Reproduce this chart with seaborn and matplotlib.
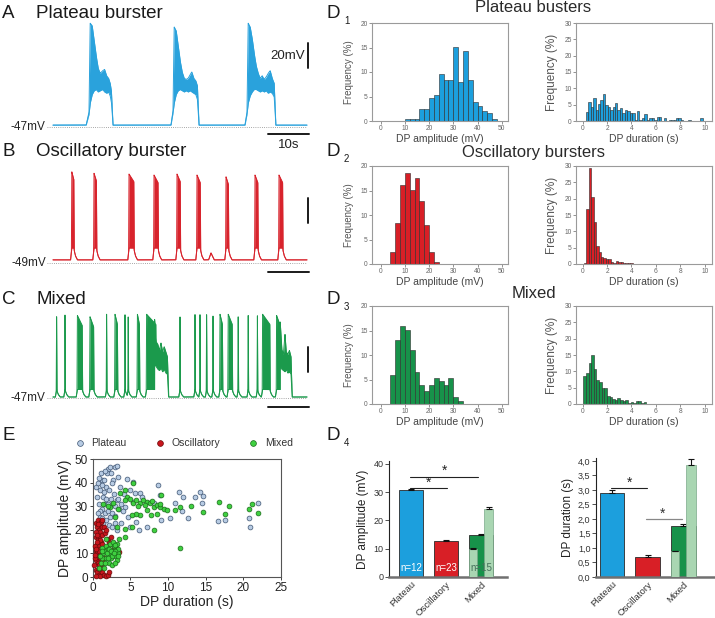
import numpy as np
import pandas as pd
import matplotlib
matplotlib.use("Agg")
import matplotlib.pyplot as plt
import seaborn as sns

sns.set_theme(style="white")
plt.rcParams['font.family'] = ['Liberation Sans', 'DejaVu Sans']

# ---------------- colours ----------------
BLUE = "#1c9fdd"
RED = "#d81f26"
GREEN = "#17924a"
LIGHTG = "#a9d6b2"

# ---------------- trace data (A, B, C) ----------------
# A: plateau bursts, envelope vertices (time s, low mV, high mV)
A_base = -45.5
A_b1_t = [8.3, 9.0, 9.3, 9.8, 10.3, 10.8, 11.3, 11.8, 12.4, 12.9, 13.4, 13.9, 14.3, 14.6, 15.0]
A_b1_lo = [-45.5, -37, -28, -21, -18, -17, -19, -18, -17, -19, -20, -19, -22, -27, -45.5]
A_b1_hi = [-45.5, -35, 36, 34, 22, 10, 0, -4, -2, -1, -6, -8, -12, -18, -45.5]
A_b2_t = [29.5, 30.0, 30.3, 30.8, 31.3, 31.8, 32.3, 32.8, 33.3, 33.8, 34.3, 34.7, 35.2, 35.7, 36.1, 36.5]
A_b2_lo = [-45.5, -36, -28, -21, -18, -17, -18, -19, -18, -19, -18, -19, -20, -21, -25, -45.5]
A_b2_hi = [-45.5, -34, 33, 30, 18, 6, -3, -8, -9, -8, -5, -3, -8, -10, -14, -45.5]
A_b3_t = [48.0, 48.5, 48.8, 49.3, 49.8, 50.3, 50.8, 51.3, 51.8, 52.3, 52.8, 53.3, 53.8, 54.3, 54.8, 55.3, 55.7]
A_b3_lo = [-45.5, -37, -28, -22, -19, -17, -17, -18, -19, -18, -19, -18, -20, -19, -20, -23, -45.5]
A_b3_hi = [-45.5, -35, 36, 33, 24, 12, 2, -4, -8, -6, -9, -7, -4, -2, -8, -12, -45.5]

# B: oscillatory bursts (onset s, duration s, peak mV)
B_base = -46.5
B_t = [4.7, 10.25, 19.0, 25.25, 31.0, 36.0, 43.25, 50.5, 56.5]
B_dur = [0.5, 0.6, 1.2, 1.0, 0.8, 0.8, 0.6, 0.7, 0.9]
B_peak = [24, 22.8, 22.2, 21.4, 22.2, 21.4, 20, 21.4, 21.4]
B_bump_t = [38.9, 39.5, 40.3]
B_bump_v = [-46.5, -41, -46.5]

# C: mixed (onset s, duration s, peak mV) + plateaus
C_base = -46.2
C_t = [0.9, 3.0, 6.1, 9.25, 13.4, 15.5, 18.0, 18.8, 21.1, 23.4, 31.75, 35.5, 36.75,
       38.4, 40.0, 41.75, 43.8, 46.3, 48.8, 51.1, 52.4, 55.9]
C_dur = [0, 0, 1.2, 0.9, 0, 0.6, 0, 0, 0.5, 2.3, 0, 0, 0, 0, 0, 0.6, 1.0, 0, 0, 0, 1.8, 0.9]
C_peak = [20, 20, 19, 18, 20, 20, 20, 19, 20, 20, 20, 20, 20, 20, 20, 20, 20, 20, 20, 20, 20, 19]
C_p1_t = [25.4, 25.8, 26.2, 26.6, 27.0, 27.4, 27.8, 28.2, 28.6, 28.9]
C_p1_lo = [-20, -22, -24, -25, -23, -26, -24, -27, -28, -46.2]
C_p1_hi = [16, -2, -4, -9, -3, -10, -6, -10, -14, -46.2]
C_p2_t = [56.8, 57.2, 57.6, 58.0, 58.3, 58.7, 59.1, 59.5, 59.8]
C_p2_lo = [-22, -24, -25, -26, -24, -27, -26, -28, -46.2]
C_p2_hi = [14, -8, -12, 4, -10, -12, -9, -14, -46.2]

# ---------------- histogram data (D1-D3) ----------------
P_amp_h = [0.4, 0.4, 0.4, 2.5, 2.5, 4.6, 5.4, 9.6, 8.4, 8.4, 15.1, 8.0, 14.3, 8.4, 3.8, 3.0, 2.1, 1.7, 0.4]
P_dur_h = [2.8, 5.8, 4.3, 7.0, 3.4, 5.2, 6.3, 8.4, 5.0, 4.4, 3.5, 4.2, 5.4, 3.4, 4.0, 2.5,
           3.4, 3.2, 2.6, 2.3, 0.4, 3.2, 0.4, 0.8, 2.1, 0.4, 0.8, 0.8, 0.4, 1.2, 1.2, 0.0,
           0.8, 0.0, 0.4, 0.4, 0.4, 0.8, 0.8, 0.4, 0.0, 0.0, 0.4, 0.0, 0.0, 0.0, 0.0, 0.8]
O_amp_h = [2.4, 8.3, 16.1, 18.6, 15.1, 17.6, 12.8, 7.9, 2.4, 0.4]
O_dur_h = [0.4, 16.8, 29.5, 20.6, 12.8, 5.6, 3.8, 2.2, 1.8, 1.5, 1.5, 0.6, 0.4, 0.8, 0.6,
           0.6, 0.2, 0.2, 0.2, 0.2]
M_amp_h = [5.9, 13.1, 15.9, 15.1, 11.0, 6.6, 3.9, 2.6, 3.9, 5.3, 4.6, 3.9, 5.3, 1.4, 0.6]
M_dur_h = [8.7, 9.6, 12.6, 15.0, 10.7, 7.2, 6.7, 4.9, 4.9, 2.4, 2.2, 1.4, 1.3, 1.7, 1.1,
           0.9, 1.2, 0.4, 0.5, 0.4, 1.0, 1.0, 0.3, 0.5]

# ---------------- bar data (D4) ----------------
groups = ["Plateau", "Oscillatory", "Mixed"]
amp_mean = [30.7, 12.9, 14.7]
amp_err = [0.4, 0.3, 0.6]
amp_sub = [10.0, 24.0]
amp_sub_err = [0.3, 0.6]
dur_mean = [2.9, 0.7, 1.75]
dur_err = [0.1, 0.07, 0.06]
dur_sub = [0.88, 3.87]
dur_sub_err = [0.01, 0.2]
n_labels = ["n=12", "n=23", "n=15"]

# ---------------- scatter data (E) ----------------
plat_x = [2.0, 2.3, 2.9, 3.2, 1.9, 1.2, 1.0, 1.4, 1.6, 2.3, 3.2, 1.0, 1.4, 2.3, 1.8, 2.7, 3.4, 4.5,
          5.4, 5.0, 5.6, 6.3, 6.5, 5.4, 4.3, 4.7, 5.8, 5.0, 3.2, 3.8, 6.1, 7.2, 8.1, 8.7, 8.9, 9.1,
          10.3, 10.9, 11.5, 11.8, 12.0, 13.6, 12.6, 14.2, 14.6, 14.5, 16.7, 17.6, 20.7, 20.9, 21.9,
          0.5, 0.7, 0.9, 1.1, 1.3, 1.5, 1.7, 0.6, 0.8, 1.2, 1.6, 2.0, 2.4, 2.8, 2.6, 3.0, 1.8, 2.1,
          2.5, 3.0, 3.5, 2.2, 1.5, 2.6, 3.3, 3.8, 4.0, 1.0, 0.7, 1.3, 2.0, 2.9, 3.6, 4.2, 1.6, 2.4]
plat_y = [45.9, 46.5, 46.7, 47.0, 43.9, 41.0, 36.8, 34.0, 31.0, 30.5, 32.6, 25.5, 22.7, 25.5, 38.0,
          41.0, 42.5, 41.5, 40.4, 36.8, 35.4, 35.4, 34.0, 31.9, 29.7, 25.5, 23.4, 21.2, 19.8, 22.7,
          19.8, 21.2, 31.2, 39.0, 34.7, 24.1, 25.0, 31.2, 36.1, 28.0, 34.0, 34.0, 24.8, 36.1, 34.3,
          31.4, 23.7, 24.1, 24.8, 21.2, 31.2,
          38, 40, 42, 44, 39, 36, 33, 34, 31, 29, 27, 28, 33, 35, 27, 26, 24, 22, 21, 30, 29, 37,
          41, 40, 33, 31, 28, 28, 27, 25, 31, 23, 38, 35, 45, 44]
osc_x = [0.5, 0.7, 0.9, 1.1, 0.6, 0.8, 1.0, 1.2, 0.4, 0.5, 0.7, 0.9, 1.1, 1.3, 0.6, 0.8, 1.0, 1.2,
         1.4, 0.4, 0.6, 0.8, 1.0, 1.2, 0.5, 0.7, 0.9, 1.1, 0.4, 0.6, 0.8, 1.0, 1.2, 1.5, 1.7, 1.4,
         1.6, 1.8, 2.0, 2.2, 2.4, 1.9, 2.6, 2.8, 3.0, 3.2, 3.4, 3.5, 1.5, 1.3, 0.3, 0.3, 0.5, 0.2,
         1.6, 1.8, 1.2, 0.9, 0.7, 1.0, 0.8, 0.6, 0.35, 0.45, 0.55, 2.0, 2.2]
osc_y = [23, 24, 22, 23.5, 21, 20, 19, 21, 19, 17, 16, 17.5, 15, 18, 14, 13, 12, 14, 12, 11, 10,
         9, 8, 10, 7, 6, 5, 4, 3, 2, 1, 0.5, 2, 1, 0.5, 6, 8, 11, 13, 15, 17, 16, 14, 12, 13,
         11.5, 11, 10.5, 21, 24, 13, 8, 0.5, 5, 18.5, 20, 7, 11, 22.5, 15.5, 3.5, 18, 9.5, 12, 15,
         1.0, 2.0]
mix_x = [5.3, 4.3, 4.5, 5.4, 5.8, 6.3, 6.7, 7.2, 7.6, 8.1, 8.5, 8.9, 9.4, 9.8, 7.2, 6.3, 5.8, 5.2,
         7.8, 8.5, 9.1, 10.9, 11.6, 13.0, 14.7, 16.8, 17.5, 18.1, 20.7, 21.2, 21.9, 2.3, 2.7, 3.4,
         3.0, 4.3, 3.6, 11.6, 8.1, 4.3, 4.3, 5.2, 3.2, 6.0, 6.9, 7.9, 9.0, 4.9, 1.4, 2.0,
         0.9, 1.1, 1.3, 1.4, 1.6, 1.8, 2.0, 2.2, 2.4, 2.6, 2.8, 3.0, 3.2, 3.3, 3.4, 1.3, 1.7, 2.1,
         2.5, 2.9, 1.5, 1.9, 2.3, 2.7, 3.0, 3.2, 3.5, 1.0, 1.2, 1.8, 2.2, 2.6, 3.0, 1.6, 3.3, 2.0,
         2.4, 2.8]
mix_y = [39.7, 36.8, 34.0, 31.2, 32.6, 31.2, 32.6, 31.9, 31.2, 29.7, 30.5, 29.7, 29.0, 28.3, 28.3,
         26.2, 26.9, 26.2, 26.2, 26.9, 34.7, 28.3, 29.7, 30.0, 27.6, 31.9, 26.9, 30.0, 29.0, 30.9,
         27.2, 29.7, 31.2, 29.0, 25.5, 32.6, 35.4, 12.3, 19.8, 17.0, 20.5, 21.0, 21.2, 30.0, 30.5,
         32.0, 31.0, 33.0, 31.0, 30.0,
         4, 6, 8, 10, 11, 13, 12, 10, 8, 11, 13, 9, 7, 10, 12, 12.5, 8, 6, 5, 6, 4, 10, 14, 15,
         11, 14, 16, 9, 11, 16, 12, 9, 13.5, 6, 9, 8, 11, 10]

# ---------------- figure helpers ----------------
W, H = 715, 618
fig = plt.figure(figsize=(7.15, 6.18), dpi=100)


def pax(x0, y0, x1, y1):
    return fig.add_axes([x0 / W, 1 - y1 / H, (x1 - x0) / W, (y1 - y0) / H])


def ftext(x, y, s, **kw):
    fig.text(x / W, 1 - y / H, s, **kw)


# ---------------- traces ----------------
tgrid = np.linspace(0, 63.5, 9000)


def envelope(base, events=(), hump=6.0, drop=7.0, segs=()):
    lo = np.full_like(tgrid, base)
    hi = lo.copy()
    for t0, dur, pk in events:
        if dur == 0:
            vt = [t0 - 0.3, t0 - 0.1, t0, t0 + 0.1, t0 + 0.4, t0 + 0.9]
            vl = [base, base + hump * 0.7, base + hump, base + hump * 0.8, base + hump * 0.35, base]
            vh = [base, base + hump * 0.7, pk, base + hump * 0.8, base + hump * 0.35, base]
        else:
            vt = [t0 - 0.3, t0 - 0.1, t0, t0 + dur, t0 + dur + 0.1, t0 + dur + 0.4, t0 + dur + 0.9]
            vl = [base, base + hump * 0.7, base + hump, base + hump, base + hump * 0.8,
                  base + hump * 0.35, base]
            vh = [base, base + hump * 0.7, pk, pk - drop, base + hump * 0.8, base + hump * 0.35, base]
        lo = np.maximum(lo, np.interp(tgrid, vt, vl, left=base, right=base))
        hi = np.maximum(hi, np.interp(tgrid, vt, vh, left=base, right=base))
    for st, sl, sh in segs:
        lo = np.maximum(lo, np.interp(tgrid, st, sl, left=base, right=base))
        hi = np.maximum(hi, np.interp(tgrid, st, sh, left=base, right=base))
    return lo, hi


def trace_axes(y0, y1, base_mv, base_px):
    ax = pax(0, y0, 320, y1)
    ax.set_xlim((0 - 53) / 4, (320 - 53) / 4)
    ax.set_ylim(base_mv - (y1 - base_px) / 1.25, base_mv + (base_px - y0) / 1.25)
    ax.axis('off')
    ax.plot([-1.5, 63.6], [base_mv, base_mv], ls=(0, (1, 1.6)), color="#8a8a8a", lw=0.6)
    ax.text(-1.8, base_mv, f"{base_mv}mV", ha='right', va='center', fontsize=8.5, color="#222")
    return ax


def draw_trace(ax, lo, hi, c):
    ax.fill_between(tgrid, lo, hi, color=c, lw=0)
    ax.plot(tgrid, hi, color=c, lw=0.7)
    ax.plot(tgrid, lo, color=c, lw=0.7)


# A
axA = trace_axes(18, 150, -47, 127)
loA, hiA = envelope(A_base, segs=[(A_b1_t, A_b1_lo, A_b1_hi), (A_b2_t, A_b2_lo, A_b2_hi),
                                  (A_b3_t, A_b3_lo, A_b3_hi)])
draw_trace(axA, loA, hiA, "#2aa2dc")
axA.plot([63.8, 63.8], [0, 20], color="#1a1a1a", lw=1.4)
axA.text(63.0, 10, "20mV", ha='right', va='center', fontsize=9.5, color="#222")
axA.plot([53.8, 64.0], [-52.6, -52.6], color="#1a1a1a", lw=1.4)
axA.text(58.9, -56.5, "10s", ha='center', va='top', fontsize=9.5, color="#222")

# B
axB = trace_axes(160, 285, -49, 263)
loB, hiB = envelope(B_base, events=list(zip(B_t, B_dur, B_peak)), hump=9.5, drop=6.0,
                    segs=[(B_bump_t, B_bump_v, B_bump_v)])
draw_trace(axB, loB, hiB, "#d8232c")
axB.plot([63.8, 63.8], [-17, 3], color="#1a1a1a", lw=1.4)
axB.plot([53.8, 64.0], [-56.2, -56.2], color="#1a1a1a", lw=1.4)

# C
axC = trace_axes(305, 420, -47, 398)
loC, hiC = envelope(C_base, events=list(zip(C_t, C_dur, C_peak)), hump=6.0, drop=8.0,
                    segs=[(C_p1_t, C_p1_lo, C_p1_hi), (C_p2_t, C_p2_lo, C_p2_hi)])
draw_trace(axC, loC, hiC, "#1b9a4c")
axC.plot([63.8, 63.8], [-26.2, -6.2], color="#1a1a1a", lw=1.4)
axC.plot([53.8, 64.0], [-54.2, -54.2], color="#1a1a1a", lw=1.4)

# panel letters / titles
for lab, y in [("A", 14), ("B", 151), ("C", 300), ("E", 436)]:
    ftext(2, y, lab, fontsize=13.5, va='center', ha='left', color="#1a1a1a")
ftext(36, 14, "Plateau burster", fontsize=13.5, va='center', color="#1a1a1a")
ftext(36, 151, "Oscillatory burster", fontsize=13.5, va='center', color="#1a1a1a")
ftext(36, 300, "Mixed", fontsize=13.5, va='center', color="#1a1a1a")
for sub, y in [("1", 14), ("2", 152), ("3", 300), ("4", 436)]:
    ftext(327, y, "D", fontsize=13.5, va='center', ha='left', color="#1a1a1a")
    ftext(344, y + 7, sub, fontsize=7, va='center', ha='left', color="#1a1a1a")
ftext(533, 8, "Plateau busters", fontsize=12, ha='center', va='center', color="#2a2a2a")
ftext(533, 152, "Oscillatory bursters", fontsize=12, ha='center', va='center', color="#2a2a2a")
ftext(534, 293, "Mixed", fontsize=12, ha='center', va='center', color="#2a2a2a")

# ---------------- histograms ----------------


def hist(ax, start, width, heights, color, xlim, ylim, xticks, yticks, xlabel):
    left = [start + i * width for i in range(len(heights))]
    edges = left + [left[-1] + width]
    centers = [l + width / 2 for l in left]
    sns.histplot(x=centers, weights=heights, bins=edges, ax=ax, color=color,
                 edgecolor="#2b2b2b", linewidth=0.4, alpha=1)
    ax.set_xlim(*xlim)
    ax.set_ylim(*ylim)
    ax.set_xticks(xticks)
    ax.set_yticks(yticks)
    ax.tick_params(axis='both', which='both', direction='out', length=2, width=0.5,
                   colors="#666", labelsize=4.8, pad=1, left=True, bottom=True)
    for s in ax.spines.values():
        s.set_color("#9a9a9a")
        s.set_linewidth(0.8)
    ax.set_xlabel(xlabel, fontsize=7.5, color="#444", labelpad=1)
    ax.set_ylabel("Frequency (%)", fontsize=7, color="#555", labelpad=5)


rows = [(23, 121, P_amp_h, 10, 2, P_dur_h, 0.25, 0.2, BLUE),
        (166, 264, O_amp_h, 4, 2, O_dur_h, 0.1, 0.2, RED),
        (306, 404, M_amp_h, 4, 2, M_dur_h, 0.05, 0.215, GREEN)]
for (y0, y1, ah, a0, aw, dh, d0, dw, col) in rows:
    axl = pax(372, y0, 508, y1)
    hist(axl, a0, aw, ah, col, (-3.6, 52.6), (0, 20), [0, 10, 20, 30, 40, 50],
         [0, 5, 10, 15, 20], "DP amplitude (mV)")
    axr = pax(576, y0, 712, y1)
    hist(axr, d0, dw, dh, col, (-0.55, 10.6), (0, 30), [0, 2, 4, 6, 8, 10],
         [0, 5, 10, 15, 20, 25, 30], "DP duration (s)")
    axr.yaxis.label.set_size(8.5)

# ---------------- D4 bar charts ----------------
pos = [0, 1, 2]


def barchart(ax, means, errs, sub, sub_err, ylim, yticks, yticklabels, ylabel, xlim):
    ax.bar(pos, means, width=0.7, color=[BLUE, RED, GREEN], edgecolor="#2a2a2a", lw=0.6, zorder=2)
    ax.errorbar(pos, means, yerr=[[0, 0, 0], errs], fmt='none', ecolor="#111", capsize=2,
                elinewidth=0.8, capthick=0.8, zorder=3)
    sx = [2 - 0.225, 2 + 0.215]
    ax.bar(sx, sub, width=[0.24, 0.27], color=LIGHTG, edgecolor="#7aa889", lw=0.5, zorder=4)
    ax.errorbar(sx, sub, yerr=[[0, 0], sub_err], fmt='none', ecolor="#111", capsize=2,
                elinewidth=0.8, capthick=0.8, zorder=5)
    ax.set_xlim(*xlim)
    ax.set_ylim(*ylim)
    ax.set_yticks(yticks)
    ax.set_yticklabels(yticklabels)
    ax.set_xticks(pos)
    ax.set_xticklabels(groups, rotation=45, ha='right', rotation_mode='anchor')
    ax.tick_params(axis='y', direction='out', length=3, width=0.6, colors="#333",
                   labelsize=6.5, pad=1, left=True)
    ax.tick_params(axis='x', length=0, labelsize=6.8, colors="#333", pad=2)
    for s in ['top', 'right']:
        ax.spines[s].set_visible(False)
    ax.spines['left'].set_color("#222")
    ax.spines['left'].set_linewidth(0.8)
    ax.spines['bottom'].set_color("#707070")
    ax.spines['bottom'].set_linewidth(1.8)
    ax.set_ylabel(ylabel, fontsize=8.5, color="#222", labelpad=3)


axL = pax(389, 461, 507, 577)
barchart(axL, amp_mean, amp_err, amp_sub, amp_sub_err, (0, 41), [0, 10, 20, 30, 40],
         ["0", "10", "20", "30", "40"], "DP amplitude (mV)", (-0.63, 2.74))
for p, lab, c in zip(pos, n_labels, ["white", "white", "#44705a"]):
    axL.text(p, 3.2, lab, ha='center', va='center', fontsize=7, color=c, zorder=6)
axL.plot([-0.03, 1.02], [31.4, 31.4], color="#222", lw=0.8)
axL.text(0.5, 31.0, "*", ha='center', va='bottom', fontsize=10, color="#222")
axL.plot([-0.03, 1.92], [35.5, 35.5], color="#222", lw=0.8)
axL.text(0.95, 35.1, "*", ha='center', va='bottom', fontsize=10, color="#222")

axR = pax(596, 458, 714, 577)
barchart(axR, dur_mean, dur_err, dur_sub, dur_sub_err, (0, 4.1),
         [0, 0.5, 1, 1.5, 2, 2.5, 3, 3.5, 4],
         ["0,0", "0,5", "1,0", "1,5", "2,0", "2,5", "3,0", "3,5", "4,0"],
         "DP duration (s)", (-0.45, 2.87))
axR.plot([-0.04, 0.99], [3.06, 3.06], color="#222", lw=0.8)
axR.text(0.5, 3.02, "*", ha='center', va='bottom', fontsize=10, color="#222")
axR.plot([0.96, 1.96], [1.99, 1.99], color="#888", lw=0.9)
axR.text(1.43, 1.95, "*", ha='center', va='bottom', fontsize=10, color="#333")

# ---------------- E scatter ----------------
df = pd.DataFrame({
    "dur": plat_x + osc_x + mix_x,
    "amp": plat_y + osc_y + mix_y,
    "type": ["Plateau"] * len(plat_x) + ["Oscillatory"] * len(osc_x) + ["Mixed"] * len(mix_x),
})
pal = {"Plateau": "#b7cbe3", "Oscillatory": "#c8151d", "Mixed": "#3fd040"}
edges = {"Plateau": "#3f5573", "Oscillatory": "#6a0a0a", "Mixed": "#1b6b1b"}
axE = pax(92.7, 459, 281, 577)
for t in ["Plateau", "Oscillatory", "Mixed"]:
    sub = df[df.type == t]
    sns.scatterplot(data=sub, x="dur", y="amp", ax=axE, color=pal[t], edgecolor=edges[t],
                    linewidth=0.5, s=12, label=t, clip_on=False, zorder=3)
axE.set_xlim(0, 25)
axE.set_ylim(0, 50)
axE.set_xticks([0, 5, 10, 15, 20, 25])
axE.set_yticks([0, 10, 20, 30, 40, 50])
axE.tick_params(axis='both', direction='out', length=2.5, width=0.6, colors="#222",
                labelsize=8.5, pad=1, left=True, bottom=True)
for s in axE.spines.values():
    s.set_color("#555")
    s.set_linewidth(0.8)
axE.set_xlabel("DP duration (s)", fontsize=10, color="#222", labelpad=1)
axE.set_ylabel("DP amplitude (mV)", fontsize=10, color="#222", labelpad=2)
leg = axE.legend(loc='lower center', bbox_to_anchor=(0.47, 1.06), ncol=3, frameon=False,
                 fontsize=7.5, handletextpad=0.1, columnspacing=2.2, markerscale=1.2,
                 borderaxespad=0)
for txt in leg.get_texts():
    txt.set_color("#333")

fig.savefig("out.png", dpi=100, facecolor="white")
